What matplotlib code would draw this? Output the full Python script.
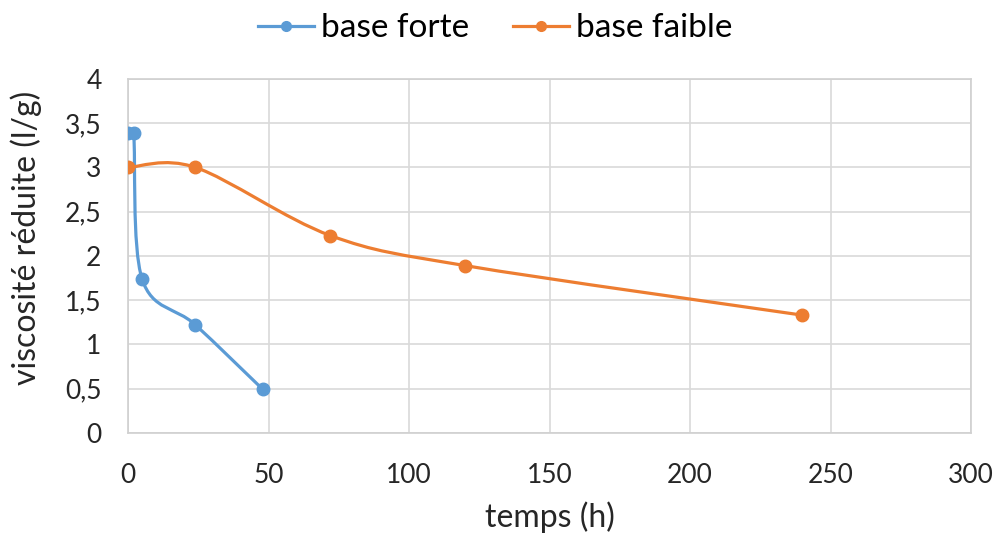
import numpy as np
import matplotlib
matplotlib.use("Agg")
import matplotlib.pyplot as plt
from matplotlib.path import Path
from matplotlib.patches import PathPatch
from matplotlib.lines import Line2D

plt.rcParams['font.family'] = ['Lato', 'DejaVu Sans']

# data
forte_t = [0, 2, 5, 24, 48]
forte_v = [3.39, 3.39, 1.74, 1.22, 0.49]
faible_t = [0, 24, 72, 120, 240]
faible_v = [3.0, 3.0, 2.23, 1.89, 1.33]
y_ticklabels = ["0", "0,5", "1", "1,5", "2", "2,5", "3", "3,5", "4"]

blue = "#5B9BD5"
orange = "#ED7D31"
txt = "#262626"


def smooth_path(ax, xs, ys, k=0.5):
    # Excel-like smoothed line: cubic Bezier through the points,
    # handles computed in pixel space and clamped to avoid big overshoot
    tr = ax.transData
    p = tr.transform(np.column_stack([xs, ys]).astype(float))
    n = len(p)
    verts = [p[0]]
    codes = [Path.MOVETO]
    for i in range(n - 1):
        p0 = p[i - 1] if i > 0 else p[i]
        p3 = p[i + 2] if i + 2 < n else p[i + 1]
        seg = np.hypot(*(p[i + 1] - p[i]))
        h1 = (p[i + 1] - p0) / 6.0
        h2 = (p3 - p[i]) / 6.0
        for h in (h1, h2):
            L = np.hypot(*h)
            if L > k * seg and L > 0:
                h *= k * seg / L
        verts += [p[i] + h1, p[i + 1] - h2, p[i + 1]]
        codes += [Path.CURVE4] * 3
    verts = tr.inverted().transform(np.array(verts))
    return Path(verts, codes)


fig = plt.figure(figsize=(10, 5.37), dpi=100)
ax = fig.add_axes([0.128, 0.194, 0.843, 0.659])
ax.set_xlim(0, 300)
ax.set_ylim(0, 4)

for xs, ys, c in [(forte_t, forte_v, blue), (faible_t, faible_v, orange)]:
    ax.add_patch(PathPatch(smooth_path(ax, xs, ys), facecolor="none", edgecolor=c,
                           lw=2.3, capstyle="round", joinstyle="round", zorder=3))
    ax.plot(xs, ys, ls="none", marker="o", ms=9, color=c, zorder=4)

ax.set_xticks(np.arange(0, 301, 50))
ax.set_yticks(np.arange(0, 4.01, 0.5))
ax.set_yticklabels(y_ticklabels)
ax.grid(True, color="#D9D9D9", lw=1.2)
ax.set_axisbelow(True)
for s in ax.spines.values():
    s.set_color("#D0D0D0")
    s.set_linewidth(1.2)
ax.tick_params(length=0, labelsize=19, colors=txt)
ax.tick_params(axis="y", pad=19)
ax.tick_params(axis="x", pad=22)

fig.text(0.550, 0.037, "temps (h)", fontsize=23, color=txt, ha="center", va="center")
fig.text(0.026, 0.557, "viscosité réduite (l/g)", fontsize=23, color=txt,
         ha="center", va="center", rotation=90)

handles = [
    Line2D([0], [0], color=blue, lw=2.3, marker="o", ms=7),
    Line2D([0], [0], color=orange, lw=2.3, marker="o", ms=7),
]
fig.legend(handles, ["base forte", "base faible"], loc="center",
           bbox_to_anchor=(0.495, 0.947), ncol=2, frameon=False,
           fontsize=24, handlelength=1.7, handletextpad=0.2, columnspacing=1.3)

fig.savefig("out.png", dpi=100)
